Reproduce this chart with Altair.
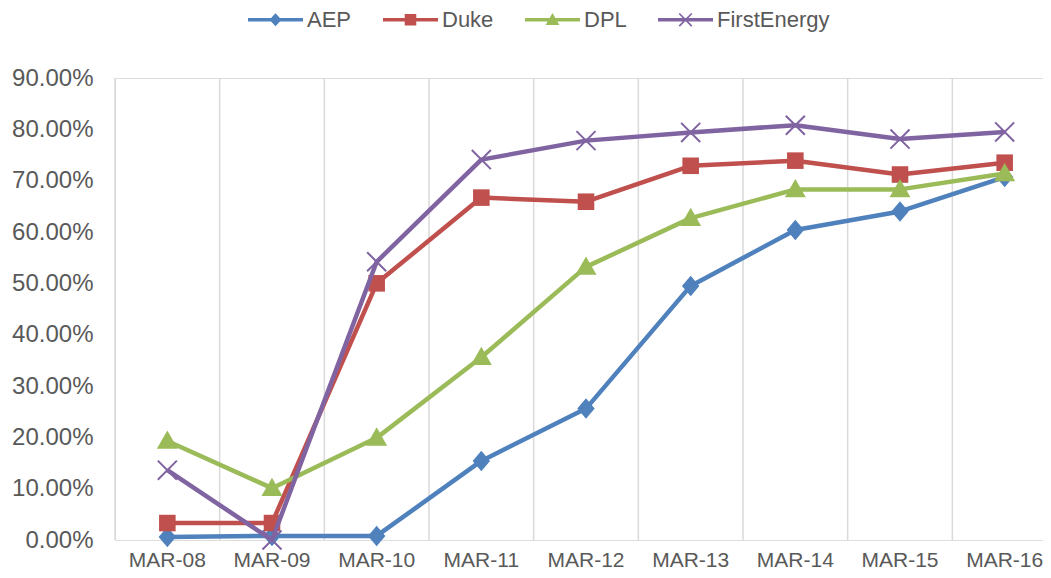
import altair as alt
import pandas as pd

categories = ["MAR-08", "MAR-09", "MAR-10", "MAR-11", "MAR-12", "MAR-13", "MAR-14", "MAR-15", "MAR-16"]
companies = ["AEP", "Duke", "DPL", "FirstEnergy"]
colors = ["#4F81BD", "#C0504D", "#9BBB59", "#8064A2"]

aep = [0.006, 0.008, 0.008, 0.154, 0.256, 0.495, 0.604, 0.640, 0.707]
duke = [0.033, 0.033, 0.500, 0.667, 0.659, 0.729, 0.739, 0.712, 0.735]
dpl = [0.193, 0.101, 0.199, 0.356, 0.532, 0.627, 0.683, 0.683, 0.714]
first_energy = [0.136, 0.000, 0.542, 0.741, 0.778, 0.794, 0.808, 0.781, 0.795]

series = {"AEP": aep, "Duke": duke, "DPL": dpl, "FirstEnergy": first_energy}
rows = []
for comp, vals in series.items():
    for c, v in zip(categories, vals):
        rows.append({"period": c, "company": comp, "value": v})
df = pd.DataFrame(rows)
cat_df = pd.DataFrame({"period": categories})

# marker paths (unit box)
marker_paths = {
    "AEP": "M0,-1L0.85,0L0,1L-0.85,0Z",
    "Duke": "M-0.85,-0.85L0.85,-0.85L0.85,0.85L-0.85,0.85Z",
    "DPL": "M0,-1L1,0.75L-1,0.75Z",
    "FirstEnergy": ("M-1,-0.86L-0.86,-1L1,0.86L0.86,1Z"
                    "M0.86,-1L1,-0.86L-0.86,1L-1,0.86Z"),
}
marker_sizes = {"AEP": 420, "Duke": 380, "DPL": 440, "FirstEnergy": 420}

bar = "M-1,-0.065L1,-0.065L1,0.065L-1,0.065Z"
legend_paths = [
    bar + "M0,-0.24L0.22,0L0,0.24L-0.22,0Z",
    bar + "M-0.21,-0.21L0.21,-0.21L0.21,0.21L-0.21,0.21Z",
    bar + "M0,-0.25L0.25,0.19L-0.25,0.19Z",
    bar + ("M-0.25,-0.205L-0.205,-0.25L0.25,0.205L0.205,0.25Z"
           "M0.205,-0.25L0.25,-0.205L-0.205,0.25L-0.25,0.205Z"),
]

FONT = "Liberation Sans"
TXT = "#595959"
GRID = "#D9D9D9"

x_scale = alt.Scale(type="band", domain=categories, paddingInner=0, paddingOuter=0)
x_axis = alt.Axis(title=None, labels=False, ticks=False, grid=False,
                  domainColor=GRID, domainWidth=1.5)
x_enc = alt.X("period:N", sort=categories, bandPosition=0.5, scale=x_scale, axis=x_axis)
x_noaxis = alt.X("period:N", sort=categories, bandPosition=0.5, scale=x_scale, axis=None)
y_enc = alt.Y("value:Q",
              scale=alt.Scale(domain=[0, 0.9], nice=False, zero=True),
              axis=alt.Axis(title=None, format=".2%", values=[i / 10 for i in range(10)],
                            domain=False, ticks=False, grid=False,
                            labelFont=FONT, labelFontSize=24, labelColor=TXT, labelPadding=22))

rules = alt.Chart(cat_df).mark_rule(color=GRID, strokeWidth=1.5).encode(
    x=alt.X("period:N", sort=categories, bandPosition=0, scale=x_scale, axis=None)
)

# category labels under the axis
cat_labels = alt.Chart(cat_df).mark_text(
    font=FONT, fontSize=21, color=TXT, baseline="top", align="center"
).encode(
    x=x_noaxis,
    y=alt.value(472),
    text=alt.Text("period:N"),
)

layers = [rules]
first = True
for comp, col in zip(companies, colors):
    sub = alt.Chart(df).transform_filter(alt.datum.company == comp)
    xe = x_enc if first else x_noaxis
    first = False
    layers.append(sub.mark_line(strokeWidth=4.5, strokeJoin="round", color=col).encode(x=xe, y=y_enc))
    layers.append(sub.mark_point(shape=marker_paths[comp], filled=True, opacity=1, color=col,
                                 size=marker_sizes[comp], strokeWidth=0).encode(x=x_noaxis, y=y_enc))

leg = alt.Legend(title=None, orient="none", direction="horizontal",
                 legendX=133, legendY=-86, columns=4,
                 symbolSize=3025, symbolStrokeWidth=0, symbolOpacity=1,
                 labelFont=FONT, labelFontSize=22, labelColor=TXT,
                 labelOffset=4, columnPadding=31, padding=0)

legend_layer = alt.Chart(df).mark_point(filled=True, opacity=0, size=0).encode(
    x=x_noaxis, y=y_enc,
    color=alt.Color("company:N", scale=alt.Scale(domain=companies, range=colors), legend=leg),
    shape=alt.Shape("company:N", scale=alt.Scale(domain=companies, range=legend_paths), legend=leg),
)
layers.append(legend_layer)
layers.append(cat_labels)

chart = alt.layer(*layers).properties(
    width=942, height=462,
    autosize=alt.AutoSizeParams(type="none"),
    padding={"left": 107, "top": 70, "right": -14, "bottom": 30},
).configure_view(stroke=None).configure(background="white")

chart.save("out.html", embed_options={"renderer": "svg", "actions": False})
